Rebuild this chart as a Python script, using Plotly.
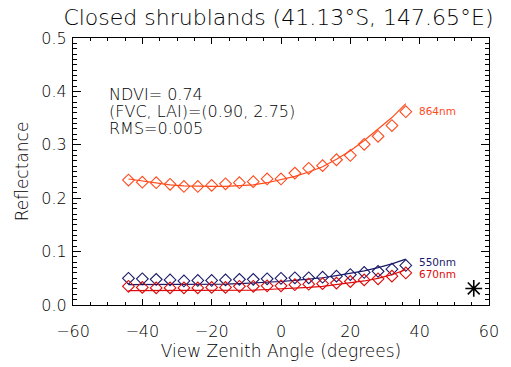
import plotly.graph_objects as go

# View zenith angles (degrees)
vza = [-44, -40, -36, -32, -28, -24, -20, -16, -12, -8, -4, 0, 4, 8, 12, 16, 20, 24, 28, 32, 36]

# Observed reflectance (diamonds)
obs_864 = [0.234, 0.230, 0.229, 0.226, 0.222, 0.222, 0.224, 0.227, 0.229, 0.231, 0.236, 0.236,
           0.247, 0.256, 0.261, 0.272, 0.280, 0.301, 0.316, 0.336, 0.362]
obs_550 = [0.050, 0.049, 0.048, 0.047, 0.045, 0.046, 0.046, 0.047, 0.048, 0.048, 0.049, 0.050,
           0.051, 0.051, 0.052, 0.054, 0.057, 0.061, 0.063, 0.067, 0.074]
obs_670 = [0.035, 0.033, 0.032, 0.032, 0.032, 0.032, 0.033, 0.033, 0.035, 0.035, 0.036, 0.036,
           0.038, 0.039, 0.040, 0.041, 0.044, 0.047, 0.049, 0.054, 0.060]

# Modelled reflectance (lines)
fit_864 = [0.236, 0.232, 0.228, 0.225, 0.223, 0.222, 0.222, 0.222, 0.223, 0.225, 0.229, 0.235,
           0.241, 0.249, 0.259, 0.273, 0.289, 0.308, 0.329, 0.351, 0.377]
fit_550 = [0.038, 0.038, 0.038, 0.038, 0.038, 0.038, 0.038, 0.039, 0.040, 0.041, 0.042, 0.044,
           0.046, 0.048, 0.051, 0.055, 0.059, 0.064, 0.070, 0.077, 0.086]
fit_670 = [0.027, 0.027, 0.027, 0.027, 0.027, 0.027, 0.027, 0.027, 0.028, 0.028, 0.029, 0.030,
           0.031, 0.033, 0.035, 0.038, 0.041, 0.045, 0.050, 0.057, 0.066]

# Sun position marker
sun_x = [55.6]
sun_y = [0.031]

band_labels = ["864nm", "550nm", "670nm"]
colors = ["#FF4A1C", "#1A1A6A", "#DD0A0A"]

title_text = "Closed shrublands (41.13°S, 147.65°E)"
info_lines = ["NDVI= 0.74", "(FVC, LAI)=(0.90, 2.75)", "RMS=0.005"]

FONT = "DejaVu Sans"
TXT = "#000000"


def fnt(size, color=TXT, weight=300):
    return dict(family=FONT, size=size, color=color, weight=weight)


fig = go.Figure()
for obs, fit, col in zip([obs_864, obs_550, obs_670], [fit_864, fit_550, fit_670], colors):
    fig.add_trace(go.Scatter(x=vza, y=fit, mode="lines", line=dict(color=col, width=1.2),
                             showlegend=False, hoverinfo="skip"))
    fig.add_trace(go.Scatter(x=vza, y=obs, mode="markers",
                             marker=dict(symbol="diamond-open", size=9, color=col,
                                         line=dict(width=1.1, color=col)),
                             showlegend=False))

fig.add_trace(go.Scatter(x=sun_x, y=sun_y, mode="markers",
                         marker=dict(symbol="asterisk-open", size=14, color="black",
                                     line=dict(width=1.6, color="black")),
                         showlegend=False))

axis_common = dict(showline=True, linecolor="black", linewidth=1, mirror="allticks",
                   ticks="inside", tickcolor="black", showgrid=False, zeroline=False,
                   tickfont=fnt(16))

fig.update_xaxes(range=[-60, 60], tickmode="linear", tick0=-60, dtick=20, ticklen=6,
                 ticklabelstandoff=12,
                 minor=dict(ticks="inside", dtick=5, ticklen=3, tickcolor="black"),
                 title=dict(text="View Zenith Angle (degrees)", font=fnt(17), standoff=2),
                 **axis_common)
fig.update_yaxes(range=[0, 0.5], tickmode="linear", tick0=0, dtick=0.1, tickformat=".1f", ticklen=8,
                 ticklabelstandoff=2,
                 minor=dict(ticks="inside", dtick=0.01, ticklen=4, tickcolor="black"),
                 title=dict(text="Reflectance", font=fnt(17), standoff=8),
                 **axis_common)

annots = []
for txt, yp in zip(info_lines, [0.788, 0.724, 0.66]):
    annots.append(dict(text=txt, xref="paper", yref="paper", x=0.0845, y=yp, xanchor="left",
                       yanchor="middle", showarrow=False, borderpad=0, font=fnt(16)))
for lab, col, yp in zip(band_labels, colors, [0.728, 0.16, 0.117]):
    annots.append(dict(text=lab, xref="paper", yref="paper", x=0.83, y=yp, xanchor="left",
                       yanchor="middle", showarrow=False, borderpad=0, font=fnt(10.5, col, 400)))

fig.update_layout(
    width=511, height=367,
    margin=dict(l=73, r=12, t=38, b=54),
    paper_bgcolor="white", plot_bgcolor="white",
    title=dict(text=title_text, x=0.545, xref="container", xanchor="center",
               y=0.953, yref="container", yanchor="middle", font=fnt(22)),
    annotations=annots,
)

fig.write_html("out.html")
